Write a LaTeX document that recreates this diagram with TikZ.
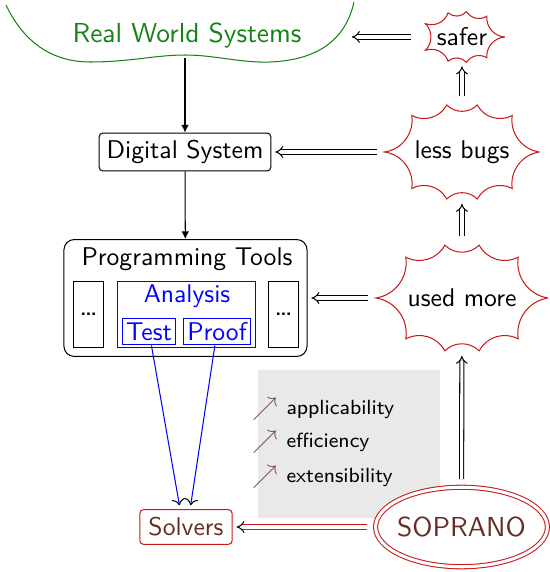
\documentclass[tikz,border=0pt]{standalone}
\usepackage{tikz}
\usetikzlibrary{arrows.meta,positioning,shapes.geometric}
\usepackage{xcolor}
\renewcommand{\familydefault}{\sfdefault}
\definecolor{sopbrown}{RGB}{100,45,35}
\definecolor{sopred}{RGB}{200,25,25}
\definecolor{rwsgreen}{RGB}{20,130,20}
\newcommand{\Gain}{\textcolor{sopbrown!80}{$\nearrow$}}
% spiky outline round an ellipse node
\newcommand{\Burst}[2]{%
  \draw[sopred] (#1.0)
    \foreach \k [evaluate=\k as \a using int(360*\k/#2)] in {1,...,#2} {
      to[bend left=45] (#1.\a)
    };
}

\begin{document}
\begin{tikzpicture}[x=0.39pt,y=0.39pt,
  box/.style={draw,rounded corners=1.5pt,inner sep=0pt},
  plain/.style={draw,inner sep=0pt},
  burst/.style={ellipse,inner sep=0pt},
  bigtext/.style={font=\fontsize{10.7}{13}\selectfont},
  down/.style={-{Latex[length=3pt,width=3pt]}},
  imp/.style={double,double distance=1.2pt,-{Implies},shorten <=3pt,shorten >=1.5pt},
  redimp/.style={imp,draw=sopred,double=white,-{Implies[color=black]}},
  bluearr/.style={blue,-{Computer Modern Rightarrow[color=black]},shorten >=1.5pt}]
\useasboundingbox (0,0) rectangle (550,572);
% \draw[help lines] (0,0) grid[step=50] (550,572);

% real world
\draw[rwsgreen] (6,567) .. controls (25,527) and (55,510) .. (90,510)
  .. controls (130,510) and (155,517) .. (185,517)
  .. controls (215,517) and (240,509) .. (270,510)
  .. controls (320,512) and (346,534) .. (354,570);
\node (rws) [bigtext,text=rwsgreen] at (187,537) {Real World Systems};
\coordinate (rwsS) at (185,514);
\coordinate (rwsE) at (348,535);

% left column
\node (digital) [box,minimum width=67pt,minimum height=14.8pt] at (185,420) {Digital System};
\node (prog) [box,rounded corners=4pt,minimum width=94.8pt,minimum height=45.6pt] at (185.5,274) {};
\node (progtitle) at (187,313) {Programming Tools};
\node (ldots) [plain,minimum width=12pt,minimum height=26pt] at (88.5,257.5) {\large\dots};
\node (rdots) [plain,minimum width=12pt,minimum height=26pt] at (283.5,257.5) {\large\dots};
\node (analysis) [plain,draw=blue,minimum width=54pt,minimum height=26pt] at (186.5,257.5) {};
\node (analysistitle) [text=blue] at (187,276) {Analysis};
\node (test) [plain,draw=blue,text=blue,minimum width=21pt,minimum height=10.5pt] at (149,240.5) {Test};
\node (proof) [plain,draw=blue,text=blue,minimum width=26.5pt,minimum height=10.5pt] at (217,240.5) {Proof};
\node (solvers) [box,draw=sopred,text=sopbrown,minimum width=36pt,minimum height=13.6pt] at (186,45) {Solvers};

% gains
\node (gains) [fill=gray!17,minimum width=71pt,minimum height=57.7pt] at (349,128) {};
\foreach \y/\t [count=\i] in {163/applicability,130/efficiency,95/extensibility} {
  \node (up\i) at (265,\y) {\Gain};
  \node (gain\i) [anchor=west,inner sep=0pt,font=\footnotesize] at (286,\y) {\t};
}
\node (soprano) [ellipse,draw=sopred,double,double distance=1.2pt,fill=white,
  minimum width=67pt,minimum height=31pt,
  label={[bigtext,text=sopbrown]center:SOPRANO}] at (461.5,45) {};

% right column
\node (safer) [burst,minimum width=33pt,minimum height=19.5pt] at (462,535) {safer};
\node (lessbugs) [burst,minimum width=60pt,minimum height=37pt] at (462,420) {less bugs};
\node (usedmore) [burst,minimum width=66.7pt,minimum height=41.7pt] at (462,274) {used more};
\Burst{safer}{9}
\Burst{lessbugs}{10}
\Burst{usedmore}{10}

\draw[down] (rwsS) -- (digital);
\draw[down] (digital) -- (prog);
\draw[bluearr] (test) -- ([xshift=-2.3pt]solvers.north);
\draw[bluearr] (proof) -- ([xshift=1.6pt]solvers.north);
\draw[imp] (safer) -- (rwsE);
\draw[imp] (lessbugs) -- (digital);
\draw[imp] (usedmore) -- (prog);
\draw[imp] (usedmore) -- (lessbugs);
\draw[imp] (lessbugs) -- (safer);
\draw[imp] (soprano) -- (usedmore);
\draw[redimp] (soprano) -- (solvers);
\end{tikzpicture}
\end{document}
